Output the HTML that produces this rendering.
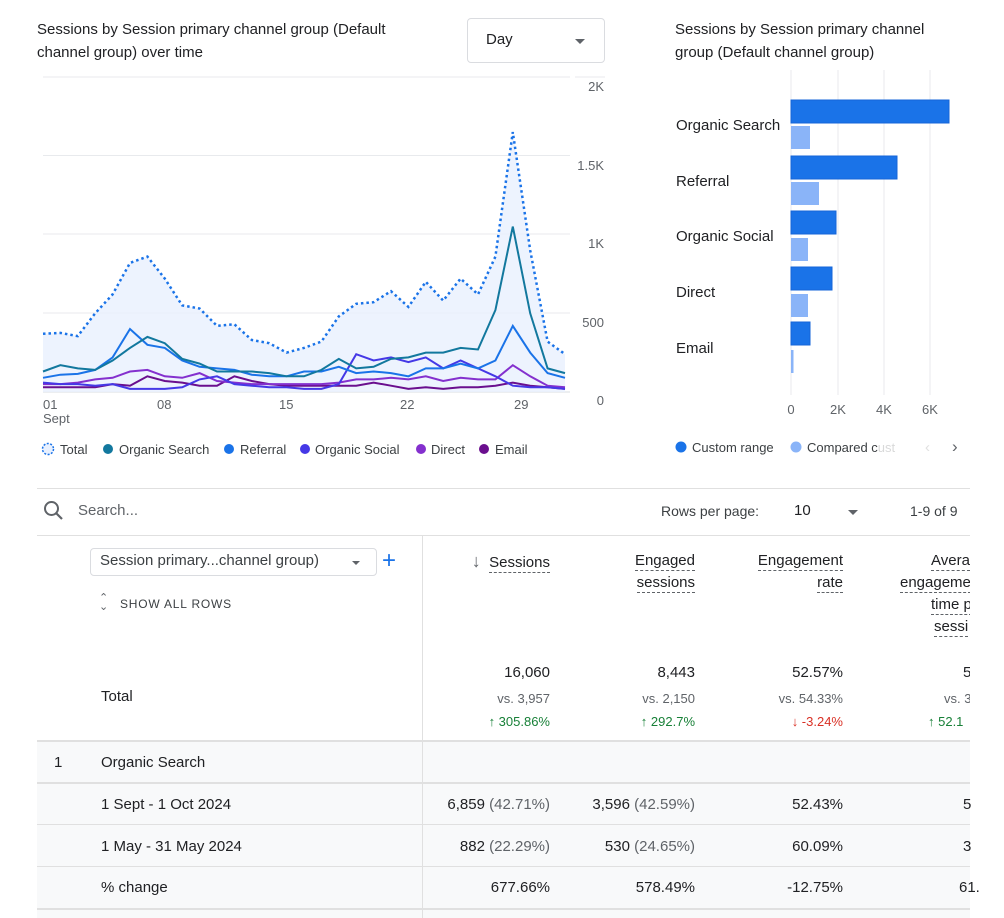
<!DOCTYPE html>
<html><head><meta charset="utf-8">
<style>
*{margin:0;padding:0;box-sizing:border-box}
body{width:1004px;height:918px;background:#fff;font-family:"Liberation Sans",Arial,sans-serif;color:#202124;position:relative;overflow:hidden}
.a{position:absolute;white-space:nowrap}
.t{font-size:15px;line-height:23px;color:#202124}
.g{color:#5f6368}
.num{text-align:right}
.dash{border-bottom:1px dashed #5f6368;padding-bottom:1px}
</style></head><body>
<div class="a t" style="left:37px;top:18px">Sessions by Session primary channel group (Default<br>channel group) over time</div>
<div class="a" style="left:467px;top:18px;width:138px;height:45px;border:1px solid #dadce0;border-radius:4px"></div>
<div class="a" style="left:486px;top:31px;font-size:15px">Day</div>
<div class="a" style="left:575px;top:39px;width:0;height:0;border-left:5px solid transparent;border-right:5px solid transparent;border-top:5px solid #5f6368"></div>
<div class="a t" style="left:675px;top:18px">Sessions by Session primary channel<br>group (Default channel group)</div>

<svg class="a" style="left:0;top:0" width="1004" height="480" id="svg">
<g stroke="#e8eaed" stroke-width="1">
<line x1="43" x2="570" y1="77" y2="77"/><line x1="43" x2="570" y1="155.5" y2="155.5"/><line x1="43" x2="570" y1="234" y2="234"/><line x1="43" x2="570" y1="313" y2="313"/><line x1="43" x2="570" y1="392" y2="392" stroke="#dadce0"/>
<line x1="575" x2="605" y1="77" y2="77"/>
</g>
<g font-size="13" fill="#5f6368" text-anchor="end">
<text x="604" y="91">2K</text><text x="604" y="170">1.5K</text><text x="604" y="248">1K</text><text x="604" y="327">500</text><text x="604" y="405">0</text>
</g>
<g font-size="13" fill="#5f6368">
<text x="43" y="409">01</text><text x="43" y="423">Sept</text><text x="157" y="409">08</text><text x="279" y="409">15</text><text x="400" y="409">22</text><text x="514" y="409">29</text>
</g>
<g id="lines"></g>
<circle cx="48" cy="449" r="5.5" fill="#e8f0fe" stroke="#1a73e8" stroke-width="1.5" stroke-dasharray="2,1.5"/>
<g font-size="13" fill="#3c4043">
<text x="60" y="454">Total</text>
<circle cx="108" cy="449" r="5" fill="#12789e"/><text x="119" y="454">Organic Search</text>
<circle cx="229" cy="449" r="5" fill="#1a73e8"/><text x="240" y="454">Referral</text>
<circle cx="305" cy="449" r="5" fill="#4538e6"/><text x="315" y="454">Organic Social</text>
<circle cx="421" cy="449" r="5" fill="#8430ce"/><text x="431" y="454">Direct</text>
<circle cx="484" cy="449" r="5" fill="#6a0f8e"/><text x="495" y="454">Email</text>
</g>
<g stroke="#e8eaed"><line x1="791" x2="791" y1="70" y2="395"/><line x1="838" x2="838" y1="70" y2="395"/><line x1="884" x2="884" y1="70" y2="395"/><line x1="930" x2="930" y1="70" y2="395"/></g>
<g fill="#1a73e8" stroke="#1565d8" stroke-width="1">
<rect x="791" y="100" width="158" height="23"/><rect x="791" y="156" width="106" height="23"/><rect x="791" y="211" width="45" height="23"/><rect x="791" y="267" width="41" height="23"/><rect x="791" y="322" width="19" height="23"/>
</g>
<g fill="#8ab4f8">
<rect x="791" y="126" width="19" height="23"/><rect x="791" y="182" width="28" height="23"/><rect x="791" y="238" width="17" height="23"/><rect x="791" y="294" width="17" height="23"/><rect x="791" y="350" width="2.5" height="23"/>
</g>
<g font-size="15" fill="#202124">
<text x="676" y="130">Organic Search</text><text x="676" y="186">Referral</text><text x="676" y="241">Organic Social</text><text x="676" y="297">Direct</text><text x="676" y="353">Email</text>
</g>
<g font-size="13" fill="#5f6368" text-anchor="middle">
<text x="791" y="414">0</text><text x="838" y="414">2K</text><text x="884" y="414">4K</text><text x="930" y="414">6K</text>
</g>
<circle cx="681" cy="447" r="5.5" fill="#1a73e8"/><text x="692" y="452" font-size="13" fill="#3c4043">Custom range</text>
<circle cx="796" cy="447" r="5.5" fill="#8ab4f8"/><text x="807" y="452" font-size="13" fill="#3c4043">Compared cust</text>
<rect x="878" y="436" width="30" height="20" fill="#fff" opacity="0.8"/>
<text x="925" y="452" font-size="15" fill="#e0e0e0">‹</text><text x="952" y="452" font-size="17" fill="#5f6368">›</text>
</svg>

<div class="a" style="left:37px;top:488px;width:933px;height:1px;background:#e0e0e0"></div>
<svg class="a" style="left:43px;top:500px" width="22" height="22"><circle cx="8.5" cy="8.5" r="6.5" fill="none" stroke="#5f6368" stroke-width="2"/><line x1="13" y1="13" x2="19" y2="19" stroke="#5f6368" stroke-width="2.2"/></svg>
<div class="a g" style="left:78px;top:502px;font-size:15px">Search...</div>
<div class="a" style="left:661px;top:503px;font-size:14px;color:#3c4043">Rows per page:</div>
<div class="a" style="left:794px;top:502px;font-size:15px">10</div>
<div class="a" style="left:848px;top:510px;border-left:5px solid transparent;border-right:5px solid transparent;border-top:5px solid #5f6368"></div>
<div class="a" style="left:910px;top:503px;font-size:14px;color:#3c4043">1-9 of 9</div>
<div class="a" style="left:37px;top:535px;width:933px;height:1px;background:#e0e0e0"></div>
<div class="a" style="left:422px;top:535px;width:1px;height:383px;background:#e0e0e0"></div>

<div class="a" style="left:90px;top:548px;width:287px;height:28px;border:1px solid #dadce0;border-radius:4px"></div>
<div class="a" style="left:100px;top:552px;font-size:15px;color:#3c4043">Session primary...channel group)</div>
<div class="a" style="left:352px;top:561px;border-left:4px solid transparent;border-right:4px solid transparent;border-top:4px solid #5f6368"></div>
<div class="a" style="left:382px;top:547px;font-size:24px;color:#1a73e8;line-height:28px">+</div>
<div class="a" style="left:99px;top:594px;font-size:11px;color:#5f6368;line-height:9px">⌃<br>⌄</div>
<div class="a" style="left:120px;top:597px;font-size:12px;letter-spacing:0.8px;color:#3c4043">SHOW ALL ROWS</div>

<div class="a t num" style="right:454px;top:550px"><span style="font-size:18px;color:#5f6368">↓</span>&nbsp; <span class="dash">Sessions</span></div>
<div class="a t num" style="right:309px;top:550px;line-height:22px"><span class="dash">Engaged</span><br><span class="dash">sessions</span></div>
<div class="a t num" style="right:161px;top:550px;line-height:22px"><span class="dash">Engagement</span><br><span class="dash">rate</span></div>
<div class="a t" style="left:900px;top:550px;line-height:22px;width:70px;overflow:hidden"><span style="margin-left:31px" class="dash">Avera</span><br><span class="dash">engageme</span><br><span style="margin-left:31px" class="dash">time p</span><br><span style="margin-left:34px" class="dash">sessi</span></div>

<div class="a t" style="left:101px;top:685px">Total</div>
<div class="a num" style="right:454px;top:664px;font-size:15px">16,060</div>
<div class="a num" style="right:309px;top:664px;font-size:15px">8,443</div>
<div class="a num" style="right:161px;top:664px;font-size:15px">52.57%</div>
<div class="a" style="left:963px;top:664px;font-size:15px">5</div>
<div class="a num g" style="right:454px;top:691px;font-size:13px">vs. 3,957</div>
<div class="a num g" style="right:309px;top:691px;font-size:13px">vs. 2,150</div>
<div class="a num g" style="right:161px;top:691px;font-size:13px">vs. 54.33%</div>
<div class="a g" style="left:944px;top:691px;font-size:13px">vs. 3</div>
<div class="a num" style="right:454px;top:714px;font-size:13px;color:#188038">↑ 305.86%</div>
<div class="a num" style="right:309px;top:714px;font-size:13px;color:#188038">↑ 292.7%</div>
<div class="a num" style="right:161px;top:714px;font-size:13px;color:#d93025">↓ -3.24%</div>
<div class="a" style="left:928px;top:714px;font-size:13px;color:#188038">↑ 52.1</div>

<div class="a" style="left:37px;top:740px;width:933px;height:178px;background:#f8f9fa"></div>
<div class="a" style="left:37px;top:740px;width:933px;height:2px;background:#e0e0e0"></div>
<div class="a" style="left:37px;top:782px;width:933px;height:2px;background:#e0e0e0"></div>
<div class="a" style="left:37px;top:824px;width:933px;height:1px;background:#e0e0e0"></div>
<div class="a" style="left:37px;top:866px;width:933px;height:1px;background:#e0e0e0"></div>
<div class="a" style="left:37px;top:908px;width:933px;height:2px;background:#e0e0e0"></div>
<div class="a" style="left:422px;top:740px;width:1px;height:178px;background:#e0e0e0"></div>
<div class="a" style="left:970px;top:488px;width:34px;height:430px;background:#fff"></div>

<div class="a t" style="left:54px;top:751px">1</div>
<div class="a t" style="left:101px;top:751px">Organic Search</div>
<div class="a t" style="left:101px;top:793px">1 Sept - 1 Oct 2024</div>
<div class="a t" style="left:101px;top:835px">1 May - 31 May 2024</div>
<div class="a t" style="left:101px;top:876px">% change</div>
<div class="a t num" style="right:454px;top:793px">6,859 <span class="g">(42.71%)</span></div>
<div class="a t num" style="right:309px;top:793px">3,596 <span class="g">(42.59%)</span></div>
<div class="a t num" style="right:161px;top:793px">52.43%</div>
<div class="a t" style="left:963px;top:793px">5</div>
<div class="a t num" style="right:454px;top:835px">882 <span class="g">(22.29%)</span></div>
<div class="a t num" style="right:309px;top:835px">530 <span class="g">(24.65%)</span></div>
<div class="a t num" style="right:161px;top:835px">60.09%</div>
<div class="a t" style="left:963px;top:835px">3</div>
<div class="a t num" style="right:454px;top:876px">677.66%</div>
<div class="a t num" style="right:309px;top:876px">578.49%</div>
<div class="a t num" style="right:161px;top:876px">-12.75%</div>
<div class="a t" style="left:959px;top:876px">61.</div>

<script>
var total=[370,375,355,500,620,820,860,720,550,530,420,430,330,310,250,280,320,480,560,570,640,540,700,580,720,620,860,1650,900,320,240];
var os=[130,170,150,140,200,280,350,310,210,180,130,130,130,120,100,100,140,210,150,160,210,220,250,250,280,270,520,1050,500,150,120];
var ref=[90,110,115,140,220,400,300,280,200,160,150,140,110,100,100,130,130,160,120,130,120,100,150,150,180,150,200,420,250,120,90];
var soc=[60,50,50,40,50,20,20,20,30,80,100,50,40,30,30,20,20,50,240,200,220,190,220,150,200,150,100,40,30,30,20];
var dir=[50,50,60,80,90,130,140,100,90,120,70,60,50,50,50,50,50,60,80,80,90,80,100,70,90,80,80,170,100,40,30];
var em=[30,30,30,30,50,40,100,70,60,40,40,100,70,50,40,40,40,40,40,60,40,20,30,20,30,30,40,60,40,30,20];
function pts(a){return a.map(function(v,i){return (43+i*17.4).toFixed(1)+","+(392-v*0.1575).toFixed(1)}).join(" ")}
var h='<polygon points="43,392 '+pts(total)+' 565,392" fill="#e8f0fe" opacity="0.8"/>';
h+='<polyline points="'+pts(em)+'" fill="none" stroke="#6a0f8e" stroke-width="2"/>';
h+='<polyline points="'+pts(dir)+'" fill="none" stroke="#8430ce" stroke-width="2"/>';
h+='<polyline points="'+pts(soc)+'" fill="none" stroke="#4538e6" stroke-width="2"/>';
h+='<polyline points="'+pts(ref)+'" fill="none" stroke="#1a73e8" stroke-width="2"/>';
h+='<polyline points="'+pts(os)+'" fill="none" stroke="#12789e" stroke-width="2"/>';
h+='<polyline points="'+pts(total)+'" fill="none" stroke="#1a73e8" stroke-width="2.5" stroke-dasharray="2.5,3"/>';
document.getElementById('lines').innerHTML=h;
</script>
</body></html>
